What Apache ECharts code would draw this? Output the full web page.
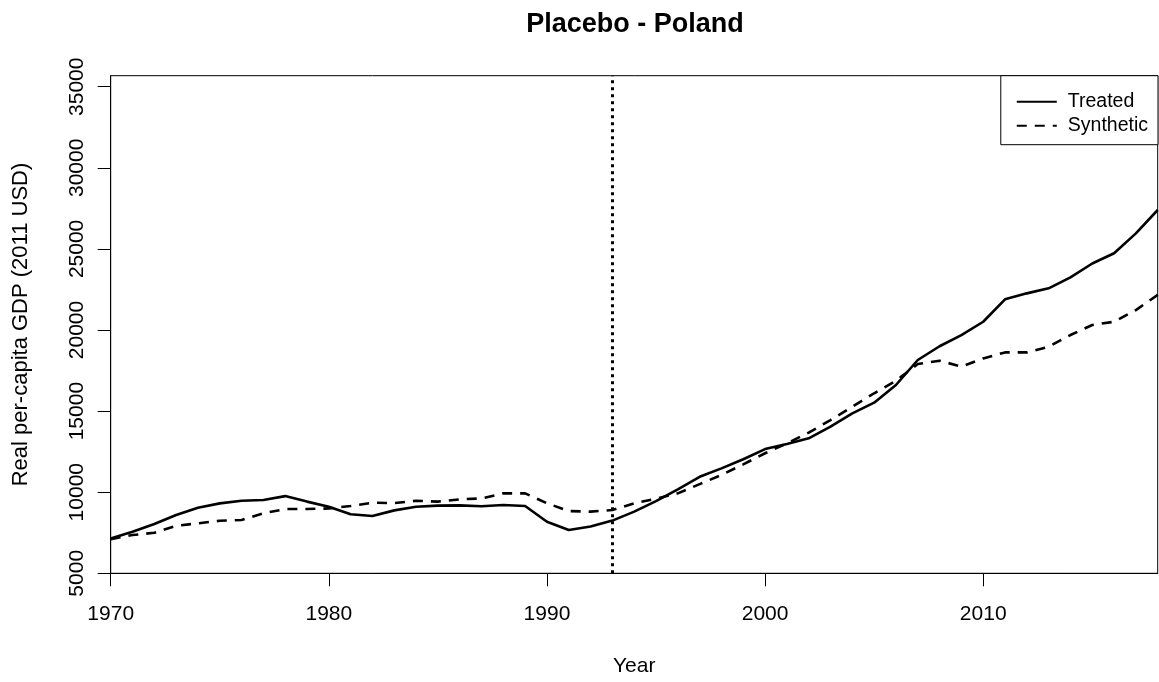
<!DOCTYPE html>
<html>
<head>
<meta charset="utf-8">
<script src="https://cdn.jsdelivr.net/npm/echarts@6/dist/echarts.min.js"></script>
<style>
html,body{margin:0;padding:0;background:#fff;}
#chart{width:1159px;height:682px;}
</style>
</head>
<body>
<div id="chart"></div>
<script>
const years = [1970,1971,1972,1973,1974,1975,1976,1977,1978,1979,1980,1981,1982,1983,1984,1985,1986,1987,1988,1989,1990,1991,1992,1993,1994,1995,1996,1997,1998,1999,2000,2001,2002,2003,2004,2005,2006,2007,2008,2009,2010,2011,2012,2013,2014,2015,2016,2017,2018];
const treated = [7150,7560,8040,8590,9040,9310,9470,9520,9760,9420,9100,8640,8530,8880,9100,9170,9190,9130,9210,9150,8180,7670,7880,8250,8800,9450,10180,10950,11470,12030,12660,12970,13320,14040,14860,15520,16610,18150,19000,19690,20510,21890,22260,22570,23250,24100,24730,25960,27400];
const synthetic = [7100,7360,7500,7930,8080,8240,8290,8700,8960,8960,9000,9150,9350,9330,9470,9420,9560,9620,9930,9930,9320,8840,8800,8900,9310,9600,9930,10500,11060,11720,12400,13010,13670,14450,15270,16100,16870,17900,18110,17740,18250,18620,18620,18970,19690,20310,20510,21230,22170];
const treatmentYear = 1993;
const yTicks = [5000,10000,15000,20000,25000,30000,35000];
const xTicks = [1970,1980,1990,2000,2010];

const chart = echarts.init(document.getElementById('chart'));
const font = 'Liberation Sans, Arial, sans-serif';
chart.setOption({
  animation: false,
  backgroundColor: '#fff',
  title: {
    text: 'Placebo - Poland',
    left: 630, top: 6, textAlign: 'center',
    textStyle: {fontFamily: font, fontSize: 27, fontWeight: 'bold', color: '#000'}
  },
  legend: {
    orient: 'vertical',
    right: 1, top: 75.7,
    padding: [16, 10, 9, 15],
    itemGap: 4,
    itemWidth: 40, itemHeight: 20,
    borderColor: '#000', borderWidth: 1,
    backgroundColor: '#fff',
    itemStyle: {color: 'rgba(0,0,0,0)', borderWidth: 0},
    textStyle: {fontFamily: font, fontSize: 19.5, color: '#000', padding: [0, 0, 0, 6]},
    data: ['Treated', 'Synthetic']
  },
  grid: {
    left: 110.7, right: 1.3, top: 75.7, bottom: 108.7,
    show: true, borderColor: '#000', borderWidth: 1
  },
  xAxis: {
    type: 'value', min: 1970, max: 2018, interval: 10,
    name: 'Year', nameLocation: 'middle', nameGap: 82,
    nameTextStyle: {fontFamily: font, fontSize: 21, color: '#000'},
    axisLine: {show: true, lineStyle: {color: '#000', width: 1}},
    axisTick: {show: true, length: 13, customValues: xTicks, lineStyle: {color: '#000'}},
    axisLabel: {fontFamily: font, fontSize: 21, color: '#000', margin: 30, customValues: xTicks,
      formatter: v => String(v)},
    splitLine: {show: false}
  },
  yAxis: {
    type: 'value', min: 5000, max: 35680, interval: 5000,
    name: 'Real per-capita GDP (2011 USD)', nameLocation: 'middle', nameGap: 79, nameRotate: 90,
    nameTextStyle: {fontFamily: font, fontSize: 22, color: '#000'},
    axisLine: {show: true, lineStyle: {color: '#000', width: 1}},
    axisTick: {show: true, length: 13, customValues: yTicks, lineStyle: {color: '#000'}},
    axisLabel: {fontFamily: font, fontSize: 21, color: '#000', rotate: 90, margin: 23, customValues: yTicks,
      formatter: v => String(v)},
    splitLine: {show: false}
  },
  series: [
    {
      name: 'Treated', type: 'line', symbol: 'none',
      data: years.map((y, i) => [y, treated[i]]),
      lineStyle: {color: '#000', width: 2.6, type: 'solid'},
      itemStyle: {color: '#000'},
      markLine: {
        silent: true, symbol: 'none',
        label: {show: false},
        lineStyle: {color: '#000', width: 3, type: [3, 4]},
        data: [{xAxis: treatmentYear}]
      }
    },
    {
      name: 'Synthetic', type: 'line', symbol: 'none',
      data: years.map((y, i) => [y, synthetic[i]]),
      lineStyle: {color: '#000', width: 2.6, type: [10, 8]},
      itemStyle: {color: '#000'}
    }
  ]
});
</script>
</body>
</html>
